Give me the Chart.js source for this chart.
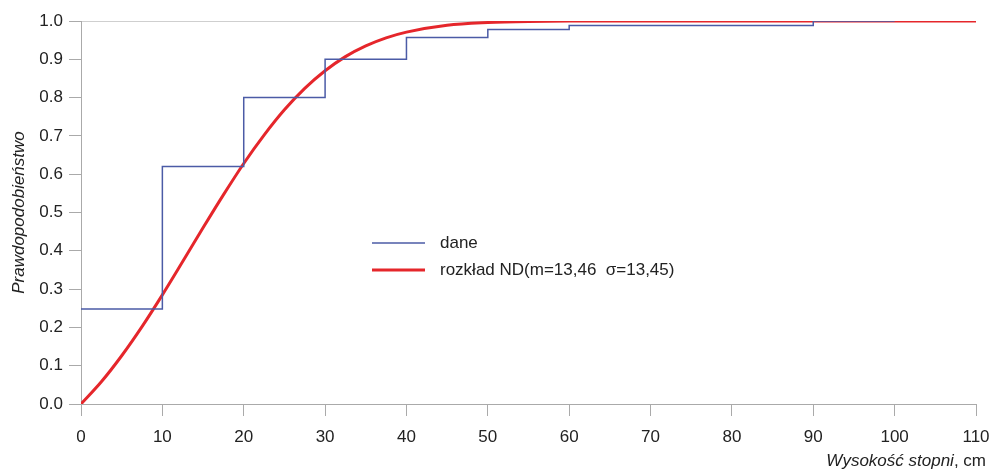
<!DOCTYPE html>
<html>
<head>
<meta charset="utf-8">
<script src="https://cdn.jsdelivr.net/npm/chart.js@4/dist/chart.umd.min.js"></script>
<style>
  html, body { margin: 0; padding: 0; background: #fff; }
  #wrap { width: 992px; height: 471px; }
</style>
</head>
<body>
<div id="wrap"><canvas id="chart" width="992" height="471"></canvas></div>
<script>
// dane empiryczne (schodki)
const daneX = [0, 10, 20, 30, 40, 50, 60, 90, 100];
const daneY = [0.248, 0.62, 0.80, 0.90, 0.957, 0.978, 0.988, 1.0, 1.0];

// krzywa rozkładu
const ndX = [0, 2.5, 5, 7.5, 10, 12.5, 15, 17.5, 20, 22.5, 25, 27.5, 30, 32.5, 35, 37.5, 40, 45, 50, 55, 60, 70, 80, 90, 100, 110];
const ndY = [0, 0.058, 0.126, 0.202, 0.285, 0.372, 0.460, 0.546, 0.628, 0.702, 0.768, 0.824, 0.870, 0.907, 0.935, 0.956, 0.971, 0.989, 0.996, 0.999, 1.0, 1.0, 1.0, 1.0, 1.0, 1.0];

const xTicks = [0, 10, 20, 30, 40, 50, 60, 70, 80, 90, 100, 110];
const yTicks = [0, 0.1, 0.2, 0.3, 0.4, 0.5, 0.6, 0.7, 0.8, 0.9, 1.0];

const labels = ["dane", "rozkład ND(m=13,46  σ=13,45)"];
const xTitleItalic = "Wysokość stopni";
const xTitleRest = ", cm";
const yTitle = "Prawdopodobieństwo";

const FONT = "Liberation Sans, Arial, sans-serif";
const blue = "#4b5ba6";
const red = "#e5262b";

const toPts = (xs, ys) => xs.map((x, i) => ({ x: x, y: ys[i] }));

// tytuły osi i legenda rysowane ręcznie
const extras = {
  id: "extras",
  afterDraw(c) {
    const ctx = c.ctx;
    const a = c.chartArea;
    ctx.save();
    ctx.fillStyle = "#222";
    ctx.textBaseline = "alphabetic";

    // tytuł osi X: część kursywą, część zwykła
    ctx.font = "17px " + FONT;
    const restW = ctx.measureText(xTitleRest).width;
    ctx.textAlign = "right";
    ctx.fillText(xTitleRest, 986, 466);
    ctx.font = "italic 17px " + FONT;
    ctx.fillText(xTitleItalic, 986 - restW, 466);

    // tytuł osi Y
    ctx.translate(24, (a.top + a.bottom) / 2);
    ctx.rotate(-Math.PI / 2);
    ctx.textAlign = "center";
    ctx.font = "italic 17px " + FONT;
    ctx.fillText(yTitle, 0, 0);
    ctx.restore();

    // legenda
    ctx.save();
    const ds = c.data.datasets;
    const lx = 372, ly = [243, 270];
    ds.forEach((d, i) => {
      ctx.strokeStyle = d.borderColor;
      ctx.lineWidth = d.borderWidth;
      ctx.beginPath();
      ctx.moveTo(lx, ly[i]);
      ctx.lineTo(lx + 53, ly[i]);
      ctx.stroke();
      ctx.fillStyle = "#222";
      ctx.font = "17px " + FONT;
      ctx.textAlign = "left";
      ctx.textBaseline = "middle";
      ctx.fillText(d.label, lx + 68, ly[i]);
    });
    ctx.restore();
  }
};

new Chart(document.getElementById("chart"), {
  type: "line",
  data: {
    datasets: [
      {
        label: labels[0],
        data: toPts(daneX, daneY),
        borderColor: blue,
        borderWidth: 1.5,
        stepped: "before",
        pointRadius: 0,
        fill: false
      },
      {
        label: labels[1],
        data: toPts(ndX, ndY),
        borderColor: red,
        borderWidth: 3,
        cubicInterpolationMode: "monotone",
        pointRadius: 0,
        fill: false
      }
    ]
  },
  options: {
    responsive: false,
    animation: false,
    layout: { padding: { top: 21, right: 0, left: 0, bottom: 0 } },
    plugins: { legend: { display: false }, tooltip: { enabled: false } },
    scales: {
      x: {
        type: "linear",
        min: 0,
        max: 110,
        afterBuildTicks: s => { s.ticks = xTicks.map(v => ({ value: v })); },
        afterFit: s => { s.height = 67; s.paddingRight = 16; },
        border: { display: true, color: "#aaa", width: 1 },
        grid: { drawOnChartArea: false, tickLength: 12, tickColor: "#aaa" },
        ticks: { color: "#222", font: { size: 17, family: FONT }, padding: 11, maxRotation: 0 }
      },
      y: {
        min: 0,
        max: 1,
        afterBuildTicks: s => { s.ticks = yTicks.map(v => ({ value: v })); },
        afterFit: s => { s.width = 81; },
        border: { display: true, color: "#aaa", width: 1 },
        grid: {
          color: c => (c.tick && c.tick.value === 1 ? "#cfcfcf" : "rgba(0,0,0,0)"),
          tickLength: 12,
          tickColor: "#aaa"
        },
        ticks: {
          color: "#222",
          font: { size: 17, family: FONT },
          padding: 6,
          callback: v => v.toFixed(1)
        }
      }
    }
  },
  plugins: [extras]
});
</script>
</body>
</html>
